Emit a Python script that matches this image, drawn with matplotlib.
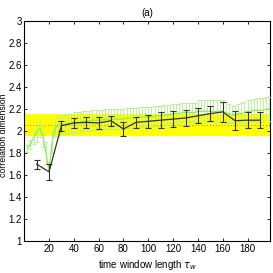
import matplotlib
matplotlib.use("Agg")
import matplotlib.pyplot as plt
import numpy as np

plt.rcParams['font.family'] = ['Liberation Sans', 'DejaVu Sans']

# Black series (coarse windows)
black_x = [10, 20, 30, 40, 50, 60, 70, 80, 90, 100, 110, 120, 130, 140, 150, 160, 170, 180, 190]
black_y = [1.70, 1.63, 2.05, 2.075, 2.08, 2.075, 2.095, 2.02, 2.08, 2.09, 2.10, 2.11, 2.12, 2.14, 2.16, 2.175, 2.095, 2.10, 2.10]
black_err = [0.04, 0.075, 0.045, 0.045, 0.05, 0.055, 0.045, 0.065, 0.05, 0.06, 0.07, 0.07, 0.07, 0.07, 0.07, 0.09, 0.085, 0.075, 0.075]

# Green series (fine windows)
green_x = [2.5, 5, 7.5, 10, 12.5, 15, 17.5, 20, 22.5, 25, 27.5, 30, 32.5, 35, 37.5, 40, 42.5, 45, 47.5, 50,
           52.5, 55, 57.5, 60, 62.5, 65, 67.5, 70, 72.5, 75, 77.5, 80, 82.5, 85, 87.5, 90, 92.5, 95, 97.5, 100,
           102.5, 105, 107.5, 110, 112.5, 115, 117.5, 120, 122.5, 125, 127.5, 130, 132.5, 135, 137.5, 140,
           142.5, 145, 147.5, 150, 152.5, 155, 157.5, 160, 162.5, 165, 167.5, 170, 172.5, 175, 177.5, 180,
           182.5, 185, 187.5, 190, 192.5, 195, 197.5]
green_y = [1.84, 1.88, 1.94, 1.99, 2.03, 1.96, 1.80, 1.64, 1.90, 2.03, 2.05, 2.06, 2.06, 2.07, 2.07, 2.08, 2.08, 2.08, 2.09, 2.09,
           2.09, 2.10, 2.10, 2.10, 2.10, 2.11, 2.11, 2.11, 2.11, 2.11, 2.11, 2.11, 2.12, 2.12, 2.12, 2.12, 2.13, 2.13, 2.13, 2.13,
           2.13, 2.14, 2.14, 2.14, 2.15, 2.15, 2.15, 2.16, 2.16, 2.16, 2.17, 2.17, 2.17, 2.17, 2.17, 2.18,
           2.18, 2.18, 2.18, 2.18, 2.18, 2.18, 2.18, 2.18, 2.17, 2.16, 2.15, 2.15, 2.16, 2.16, 2.17, 2.18,
           2.18, 2.19, 2.19, 2.19, 2.19, 2.20, 2.20]
green_err = [0.03, 0.04, 0.06, 0.09, 0.08, 0.10, 0.10, 0.08, 0.10, 0.08, 0.09, 0.09, 0.09, 0.09, 0.09, 0.09, 0.09, 0.09, 0.09, 0.09,
             0.09, 0.09, 0.09, 0.09, 0.09, 0.09, 0.09, 0.09, 0.09, 0.09, 0.09, 0.09, 0.09, 0.09, 0.09, 0.09, 0.09, 0.09, 0.09, 0.09,
             0.09, 0.09, 0.09, 0.09, 0.09, 0.09, 0.09, 0.09, 0.09, 0.09, 0.09, 0.09, 0.09, 0.09, 0.09, 0.10,
             0.10, 0.10, 0.10, 0.10, 0.10, 0.10, 0.10, 0.10, 0.10, 0.09, 0.08, 0.08, 0.09, 0.10, 0.10, 0.10,
             0.10, 0.10, 0.11, 0.11, 0.11, 0.11, 0.11]

band_low, band_high = 1.955, 2.16
ref_level = 2.058

xticks = [20, 40, 60, 80, 100, 120, 140, 160, 180]
yticks = [1, 1.2, 1.4, 1.6, 1.8, 2, 2.2, 2.4, 2.6, 2.8, 3]
ytick_labels = ["1", "1.2", "1.4", "1.6", "1.8", "2", "2.2", "2.4", "2.6", "2.8", "3"]

fig = plt.figure(figsize=(2.73, 2.73), dpi=100)
ax = fig.add_axes([0.0887, 0.117, 0.9, 0.805])

ax.axhspan(band_low, band_high, color='#ffff00', zorder=1, lw=0)
ax.axhline(ref_level, color='#c89600', ls=':', lw=0.8, zorder=2)

ax.errorbar(green_x, green_y, yerr=green_err, color='#8cf050', ecolor='#b4f08c',
            elinewidth=0.6, capsize=1.5, capthick=0.6, lw=0.9, zorder=3)
ax.errorbar(black_x, black_y, yerr=black_err, color='#333333', ecolor='#333333',
            elinewidth=0.8, capsize=2.5, capthick=0.8, lw=0.9, zorder=4)

ax.set_xlim(0, 198)
ax.set_ylim(1, 3)
ax.set_xticks(xticks)
ax.set_yticks(yticks)
ax.set_yticklabels(ytick_labels)
ax.tick_params(direction='in', length=2.5, width=0.6, labelsize=7, top=True, right=True, pad=2)
ax.tick_params(axis='y', pad=1.5)
for s in ax.spines.values():
    s.set_linewidth(0.8)

ax.set_xlabel(r"time window length $\tau_w$", fontsize=7, labelpad=3)
ax.set_ylabel("correlation dimension", fontsize=6.3)
ax.yaxis.set_label_coords(-0.066, 0.48)
ax.set_title("(a)", fontsize=7, pad=4)

fig.savefig("out.png", dpi=100)
